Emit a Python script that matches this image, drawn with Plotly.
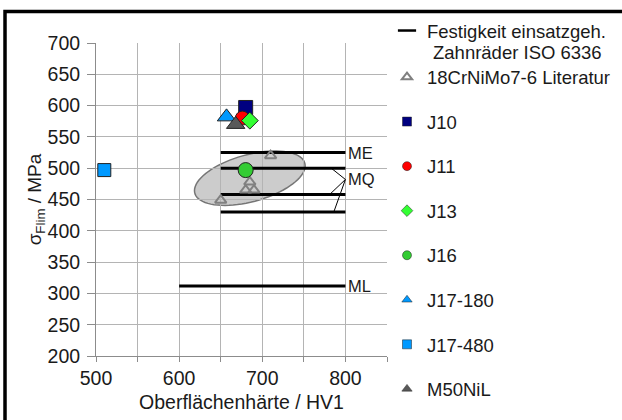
import numpy as np
import plotly.graph_objects as go

# ---------------- data ----------------
# ISO 6336 strength lines (case-hardened gears)
iso_labels = ["ME", "MQ", "MQ", "MQ", "ML"]
iso_y = [525, 500, 458, 430, 312]
iso_x_start = [650, 650, 650, 650, 600]
iso_x_end = [800, 800, 800, 800, 800]

# literature values 18CrNiMo7-6
lit_x = [650, 680, 685, 690, 710]
lit_y = [449, 465, 478, 465, 520]

# own test series
series_names = ["J10", "J11", "J13", "J16", "J17-180", "J17-480", "M50NiL"]
series_x = [680, 676, 685, 680, 657, 510, 668]
series_y = [597, 580, 576, 497, 582, 497, 570]
series_colors = ["#000080", "#ff0000", "#33ff33", "#33cc33", "#0099ff", "#0099ff", "#595959"]
series_symbols = ["square", "circle", "diamond", "circle", "triangle-up", "square", "triangle-up"]
series_sizes = [14, 14, 13, 15, 16, 13, 16]

# MQ bracket: from line ends to the label point
mq_point = (800, 482)
mq_bracket_x = [783, 781, 786]
mq_bracket_y = [500, 458, 430]

x_ticks = [500, 550, 600, 650, 700, 750, 800, 850]
x_ticktext = ["500", "", "600", "", "700", "", "800", ""]
y_ticks = list(range(200, 701, 50))

# highlight ellipse around literature values (data centre, pixel axes)
ell_center = (685, 484)
ell_a_px, ell_b_px, ell_angle_deg = 57, 23.5, 15.3

# ---------------- layout geometry ----------------
W, H = 622, 420
ML_, MR_, MT_, MB_ = 96, 235, 43, 64
PW, PH = W - ML_ - MR_, H - MT_ - MB_
X0, X1, Y0, Y1 = 500, 850, 200, 700
sx = PW / (X1 - X0)
sy = PH / (Y1 - Y0)

def px2paper_x(px):
    return (px - ML_) / PW

def px2paper_y(py):
    return (H - MB_ - py) / PH

FONT = "Liberation Sans, Arial, sans-serif"
TXT = "#1a1a1a"
LEG_FONT = 18.5

fig = go.Figure()

# ISO lines
lx, ly = [], []
for xs, xe, y in zip(iso_x_start, iso_x_end, iso_y):
    lx += [xs, xe, None]
    ly += [y, y, None]
fig.add_trace(go.Scatter(x=lx, y=ly, mode="lines", line=dict(color="black", width=3),
                         showlegend=False, hoverinfo="skip"))

# MQ bracket
bx, by = [], []
for x, y in zip(mq_bracket_x, mq_bracket_y):
    bx += [x, mq_point[0], None]
    by += [y, mq_point[1], None]
fig.add_trace(go.Scatter(x=bx, y=by, mode="lines", line=dict(color="black", width=1),
                         showlegend=False, hoverinfo="skip"))

# literature
fig.add_trace(go.Scatter(x=lit_x, y=lit_y, mode="markers",
                         marker=dict(symbol="triangle-up-open", size=10, color="#808080",
                                     line=dict(width=2, color="#808080")),
                         showlegend=False))

# series
for n, x, y, c, s, sz in zip(series_names, series_x, series_y, series_colors, series_symbols, series_sizes):
    fig.add_trace(go.Scatter(x=[x], y=[y], mode="markers", name=n,
                             marker=dict(symbol=s, size=sz, color=c,
                                         line=dict(width=1, color="#222222")),
                             showlegend=False))

# ---------------- legend entries ----------------
fig.add_trace(go.Scatter(x=[None], y=[None], mode="markers", name="Festigkeit einsatzgeh.",
                         legend="legend",
                         marker=dict(symbol="line-ew-open", size=13, color="black",
                                     line=dict(width=2.5, color="black"))))
fig.add_trace(go.Scatter(x=[None], y=[None], mode="markers", name="18CrNiMo7-6 Literatur",
                         legend="legend2", legendgroup="lit",
                         marker=dict(symbol="triangle-up-open", size=9, color="#808080",
                                     line=dict(width=2, color="#808080"))))
for n, c, s in zip(series_names, series_colors, series_symbols):
    fig.add_trace(go.Scatter(x=[None], y=[None], mode="markers", name=n, legendgroup=n,
                             legend="legend2",
                             marker=dict(symbol=s, size=9, color=c,
                                         line=dict(width=0.5, color="#222222"))))

# ---------------- shapes ----------------
t = np.linspace(0, 2 * np.pi, 80)
th = np.deg2rad(ell_angle_deg)
ex = ell_center[0] + (ell_a_px * np.cos(t) * np.cos(th) - ell_b_px * np.sin(t) * np.sin(th)) / sx
ey = ell_center[1] + (ell_a_px * np.cos(t) * np.sin(th) + ell_b_px * np.sin(t) * np.cos(th)) / sy
path = "M " + " L ".join(f"{a:.2f},{b:.2f}" for a, b in zip(ex, ey)) + " Z"

shapes = [
    dict(type="path", path=path, xref="x", yref="y", layer="below",
         fillcolor="#cccccc", line=dict(color="#767676", width=1.5)),
    # outer frame (top and left visible)
    dict(type="path", xref="paper", yref="paper",
         path=f"M {px2paper_x(5):.4f},{px2paper_y(430):.4f} L {px2paper_x(5):.4f},{px2paper_y(11.5):.4f} "
              f"L {px2paper_x(640):.4f},{px2paper_y(11.5):.4f}",
         line=dict(color="black", width=3.5)),
]

annotations = []
for lab, y in [("ME", 525), ("MQ", mq_point[1]), ("ML", 312)]:
    annotations.append(dict(x=800, y=y, xref="x", yref="y", text=lab, showarrow=False,
                            xanchor="left", yanchor="middle", xshift=1,
                            font=dict(family=FONT, size=16.5, color=TXT)))
# second line of the ISO legend entry
annotations.append(dict(x=px2paper_x(431), y=px2paper_y(53), xref="paper", yref="paper",
                        text="Zahnräder ISO 6336", showarrow=False, xanchor="left",
                        yanchor="middle", font=dict(family=FONT, size=LEG_FONT, color=TXT)))

legend_common = dict(xanchor="left", yanchor="top", bgcolor="rgba(0,0,0,0)",
                     font=dict(family=FONT, size=LEG_FONT, color=TXT))

fig.update_layout(
    width=W, height=H,
    margin=dict(l=ML_, r=MR_, t=MT_, b=MB_, autoexpand=False),
    paper_bgcolor="white", plot_bgcolor="white",
    font=dict(family=FONT, size=18, color=TXT),
    shapes=shapes, annotations=annotations,
    legend=dict(x=px2paper_x(387), y=px2paper_y(12), **legend_common),
    legend2=dict(x=px2paper_x(387), y=px2paper_y(58.5), traceorder="grouped",
                 tracegroupgap=17.5, **legend_common),
    xaxis=dict(range=[X0, X1], tickvals=x_ticks, ticktext=x_ticktext,
               showgrid=True, gridcolor="#b4b4b4", gridwidth=1,
               showline=True, linecolor="#8c8c8c", linewidth=1,
               ticks="outside", ticklen=5, tickcolor="#8c8c8c",
               zeroline=False, tickfont=dict(size=19.5),
               title=dict(text="Oberflächenhärte / HV1", font=dict(size=19.5), standoff=6)),
    yaxis=dict(range=[Y0, Y1], tickvals=y_ticks,
               showgrid=True, gridcolor="#b4b4b4", gridwidth=1,
               showline=True, linecolor="#8c8c8c", linewidth=1,
               ticks="outside", ticklen=8, tickcolor="#8c8c8c",
               zeroline=False, tickfont=dict(size=19.5),
               title=dict(text="σ<sub>Flim</sub> / MPa", font=dict(size=19), standoff=0)),
)
try:
    fig.layout.yaxis.ticklabelstandoff = 3
except Exception:
    pass
for name in ("legend", "legend2"):
    try:
        fig.layout[name].maxheight = 2000
    except Exception:
        pass

fig.write_html("out.html", config={"displayModeBar": False},
               post_script="document.body.style.margin='0';")
